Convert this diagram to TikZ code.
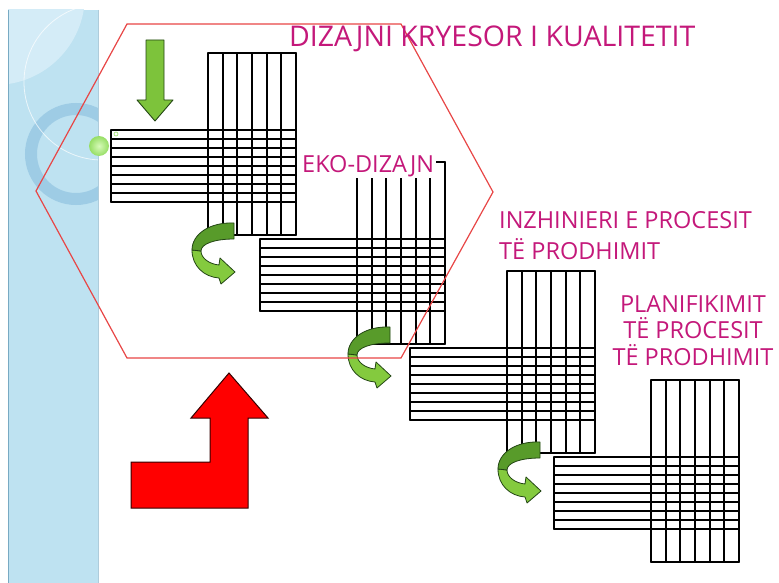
\documentclass[tikz,border=0pt]{standalone}
\usepackage{fontspec}
\setmainfont{Open Sans}
\definecolor{pinktxt}{RGB}{196,24,122}
\definecolor{stripblue}{RGB}{190,226,241}
\definecolor{striplight}{RGB}{212,236,247}
\definecolor{ringblue}{RGB}{158,204,229}
\definecolor{stripedge}{RGB}{120,170,195}
\definecolor{hexred}{RGB}{232,70,70}
\definecolor{gdark}{RGB}{88,155,42}
\definecolor{glight}{RGB}{132,202,62}
\definecolor{gline}{RGB}{35,70,20}
\definecolor{ballin}{RGB}{215,250,185}
\definecolor{ballout}{RGB}{150,222,100}
\newcommand\drawgrid[2]{%
  \begin{scope}[shift={(#1,#2)}]
    \foreach \i in {0,...,6} \draw[gridline] ({\i*88/6},0) -- ({\i*88/6},182);
    \draw[gridline] (0,0) -- (88,0);
    \draw[gridline] (0,182) -- (88,182);
    \foreach \j in {0,...,8} \draw[gridline] (-97,{77+\j*9}) -- (88,{77+\j*9});
    \draw[gridline] (-97,77) -- (-97,149);
  \end{scope}}
\newcommand\uturnarrow[2]{%
  \begin{scope}[shift={(#1,#2)}]
    \filldraw[fill=glight, draw=gline, line width=0.8pt, line join=round]
      (0,28) .. controls (0,44) and (12,55) .. (27,56) -- (29,62) -- (43,50)
      -- (28,36) -- (27,43) .. controls (17,42) and (9,36) .. (9,29) -- cycle;
    \filldraw[fill=gdark, draw=gline, line width=0.8pt, line join=round]
      (42,1) .. controls (18,0) and (0,12) .. (0,28) -- (9,29)
      .. controls (9,22) and (22,17) .. (42,17) -- cycle;
  \end{scope}}
\begin{document}
\begin{tikzpicture}[x=1pt,y=-1pt,
  gridline/.style={draw=black, line width=1.7pt, line cap=round, line join=round},
  label/.style={text=pinktxt, font=\fontsize{23.5}{31}\selectfont, inner sep=0pt}]
\useasboundingbox (0,0) rectangle (779,583);
\fill[white] (0,0) rectangle (779,583);
% left decorative strip
\begin{scope}
  \clip (8,10) rectangle (98,583);
  \fill[stripblue] (8,10) rectangle (98,583);
  \fill[striplight] (-5,-5) circle[radius=90pt];
  \draw[ringblue, line width=12pt] (76,154) circle[radius=45pt];
  \draw[white, opacity=0.7, line width=0.8pt] (102,82) circle[radius=78pt];
\end{scope}
\draw[stripedge, line width=1pt] (8,10) -- (8,583);
\draw[stripedge!60, line width=0.8pt] (98,10) -- (98,583);
% grids
\drawgrid{208}{53}
\drawgrid{357}{162}
\drawgrid{507}{271}
\drawgrid{651}{380}
% straight green arrow
\filldraw[fill=glight!85!gdark, draw=gline, line width=0.9pt, line join=round]
  (146,40) -- (164,40) -- (164,100) -- (173,100) -- (155,121) -- (137,100) -- (146,100) -- cycle;
% u-turn arrows
\uturnarrow{192}{222}
\uturnarrow{348}{326}
\uturnarrow{498}{441}
% red bent arrow
\filldraw[fill=red, draw=black!80!red, line width=1pt, line join=miter]
  (229,373) -- (268,418) -- (248,418) -- (248,508) -- (131,508) -- (131,462)
  -- (210,462) -- (210,418) -- (191,418) -- cycle;
% hexagon
\draw[hexred, line width=1.2pt] (127,24) -- (401,24) -- (493,192) -- (401,358) -- (127,358) -- (36,191) -- cycle;
% green ball
\shade[inner color=ballin, outer color=ballout] (99,146) circle[radius=10pt];
\draw[ballout, line width=0.6pt] (116,134) circle[radius=2pt];
% labels
\node[label, anchor=base west, font=\fontsize{28.5}{32}\selectfont] (title) at (289,47) {DIZAJNI KRYESOR I KUALITETIT};
\node[label, anchor=base west, fill=white, inner xsep=2pt, text height=20pt, text depth=6pt] (eko) at (300,172) {EKO-DIZAJN};
\node[label, anchor=north west, align=left] (inzh) at (499,211) {INZHINIERI E PROCESIT\\TË PRODHIMIT};
\node[label, anchor=north, align=center, font=\fontsize{23.5}{26.5}\selectfont] (plan) at (693,295) {PLANIFIKIMIT\\TË PROCESIT\\TË PRODHIMIT};
\end{tikzpicture}
\end{document}
